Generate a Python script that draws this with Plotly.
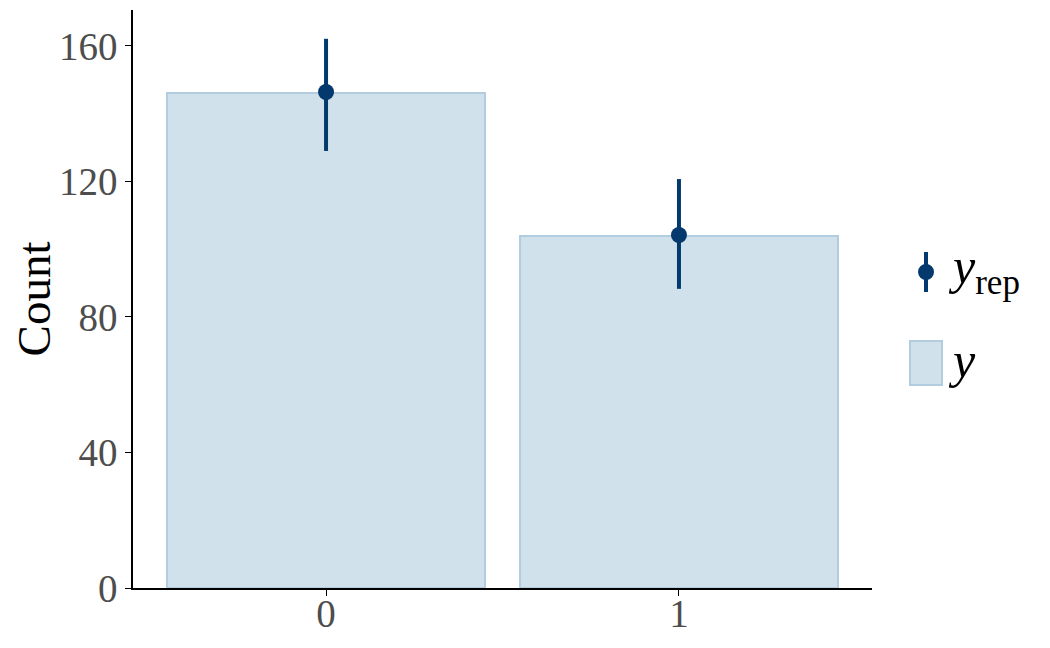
import plotly.graph_objects as go

# observed counts (y) and replicated summaries (y_rep)
categories = [0, 1]
y_counts = [146, 104]
yrep_mid = [146.4, 104.2]
yrep_lo = [129.0, 88.3]
yrep_hi = [162.1, 120.7]

light = '#d1e1ec'
light_edge = '#b3cde0'
dark = '#03396c'
font_family = 'Liberation Serif, Times New Roman, serif'

fig = go.Figure()

fig.add_trace(go.Bar(
    x=categories,
    y=y_counts,
    width=0.9,
    marker=dict(color=light, line=dict(color=light_edge, width=2)),
    showlegend=False,
))

fig.add_trace(go.Scatter(
    x=categories,
    y=yrep_mid,
    mode='markers',
    marker=dict(color=dark, size=16),
    error_y=dict(
        type='data',
        symmetric=False,
        array=[h - m for h, m in zip(yrep_hi, yrep_mid)],
        arrayminus=[m - l for m, l in zip(yrep_mid, yrep_lo)],
        color=dark,
        thickness=4,
        width=0,
    ),
    showlegend=False,
))

# hand-drawn legend (pointrange + box)
fig.add_shape(type='line', xref='paper', yref='paper',
              x0=1.0731, x1=1.0731, y0=0.5813, y1=0.5121,
              line=dict(color=dark, width=4))
fig.add_shape(type='circle', xref='paper', yref='paper',
              x0=1.0623, x1=1.0839, y0=0.5329, y1=0.5605,
              fillcolor=dark, line=dict(color=dark, width=0))
fig.add_shape(type='rect', xref='paper', yref='paper',
              x0=1.0514, x1=1.0947, y0=0.3512, y1=0.4273,
              fillcolor=light, line=dict(color=light_edge, width=2))
fig.add_annotation(xref='paper', yref='paper', x=1.100, y=0.550,
                   xanchor='left', yanchor='middle', showarrow=False,
                   text='<i>y</i><sub>rep</sub>',
                   font=dict(family=font_family, size=50, color='black'))
fig.add_annotation(xref='paper', yref='paper', x=1.100, y=0.395,
                   xanchor='left', yanchor='middle', showarrow=False,
                   text='<i>y</i>',
                   font=dict(family=font_family, size=50, color='black'))

# the page body adds an 8px offset, so size/margins are trimmed to match
fig.update_layout(
    width=1042,
    height=640,
    margin=dict(l=125, r=178, t=2, b=60),
    plot_bgcolor='white',
    paper_bgcolor='white',
    font=dict(family=font_family, color='#4d4d4d'),
    bargap=0,
    xaxis=dict(
        range=[-0.547, 1.547],
        tickvals=categories,
        ticktext=[str(c) for c in categories],
        showgrid=False,
        zeroline=False,
        showline=True,
        linecolor='black',
        linewidth=1.5,
        ticks='outside',
        ticklen=6,
        tickcolor='black',
        ticklabelstandoff=-16,
        tickfont=dict(size=39, color='#4d4d4d'),
        automargin=False,
    ),
    yaxis=dict(
        range=[0, 170.6],
        tickvals=[0, 40, 80, 120, 160],
        showgrid=False,
        zeroline=False,
        showline=True,
        linecolor='black',
        linewidth=1.5,
        ticks='outside',
        ticklen=6,
        tickcolor='black',
        tickfont=dict(size=39, color='#4d4d4d'),
        title=dict(text='Count', font=dict(size=47, color='black'), standoff=14),
        automargin=False,
    ),
)

fig.write_html('out.html')
